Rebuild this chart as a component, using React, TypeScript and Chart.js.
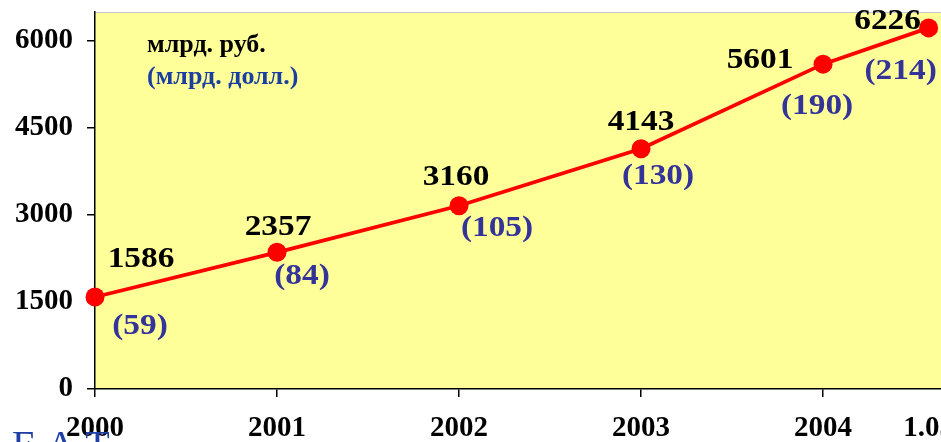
import React, { useEffect, useRef } from "react";
import { Chart, registerables } from "chart.js";

Chart.register(...registerables);

// ---- data ----
const years = [2000, 2001, 2002, 2003, 2004, 2004.58];
const xTickLabels = ["2000", "2001", "2002", "2003", "2004", "1.05"];
const rubValues = [1586, 2357, 3160, 4143, 5601, 6226];
const usdValues = [59, 84, 105, 130, 190, 214];
const yTicks = [0, 1500, 3000, 4500, 6000];
const unitRub = "млрд. руб.";
const unitUsd = "(млрд. долл.)";
const footerText = "Е.А.Т";

// label placement relative to each point (style, not data)
const rubLabelOffset = [
  [46, -37], [1, -25], [-3, -28], [0, -26], [-63, -4], [-41, -6],
];
const usdLabelOffset = [
  [45, 30], [25, 24], [38, 23], [17, 28], [-6, 42], [-28, 44],
];

const SERIF = '"Liberation Serif", "Times New Roman", serif';
const YELLOW = "#FFFF99";
const RED = "#FF0000";
const NAVY = "#333399";
const BLUE2 = "#1A3FA0";

const decorPlugin = {
  id: "decor",
  beforeDraw(chart: any) {
    const { ctx, chartArea } = chart;
    ctx.save();
    ctx.fillStyle = YELLOW;
    ctx.fillRect(chartArea.left, chartArea.top, chartArea.right - chartArea.left, chartArea.bottom - chartArea.top);
    ctx.strokeStyle = "#C8C8C8";
    ctx.lineWidth = 1;
    ctx.beginPath();
    ctx.moveTo(chartArea.left, chartArea.top + 0.5);
    ctx.lineTo(chartArea.right, chartArea.top + 0.5);
    ctx.stroke();
    ctx.restore();
  },
  afterDatasetsDraw(chart: any) {
    const { ctx, chartArea } = chart;
    const meta = chart.getDatasetMeta(0);
    ctx.save();
    const drawStretched = (text: string, x: number, y: number, font: string, color: string, sx: number, align: CanvasTextAlign) => {
      ctx.save();
      ctx.translate(x, y);
      ctx.scale(sx, 1);
      ctx.font = font;
      ctx.fillStyle = color;
      ctx.textAlign = align;
      ctx.textBaseline = "middle";
      ctx.fillText(text, 0, 0);
      ctx.restore();
    };
    meta.data.forEach((pt: any, i: number) => {
      const ro = rubLabelOffset[i];
      const uo = usdLabelOffset[i];
      drawStretched(String(rubValues[i]), pt.x + ro[0], pt.y + ro[1], `bold 29px ${SERIF}`, "#000000", 1.15, "center");
      drawStretched(`(${usdValues[i]})`, pt.x + uo[0], pt.y + uo[1], `bold 29px ${SERIF}`, NAVY, 1.15, "center");
    });
    drawStretched(unitRub, chartArea.left + 52, chartArea.top + 33, `bold 26px ${SERIF}`, "#000000", 1.0, "left");
    drawStretched(unitUsd, chartArea.left + 52, chartArea.top + 65, `bold 26px ${SERIF}`, BLUE2, 1.0, "left");
    ctx.font = `40px ${SERIF}`;
    ctx.fillStyle = "#1F3FA6";
    ctx.textAlign = "left";
    ctx.textBaseline = "alphabetic";
    ctx.fillText(footerText, 12, 458);
    ctx.restore();
  },
};

export default function App() {
  const ref = useRef<HTMLCanvasElement>(null);
  useEffect(() => {
    if (!ref.current) return;
    const chart = new Chart(ref.current, {
      type: "line",
      data: {
        datasets: [
          {
            data: years.map((x, i) => ({ x, y: rubValues[i] })),
            borderColor: RED,
            backgroundColor: RED,
            borderWidth: 3.8,
            pointRadius: 9.5,
            pointBackgroundColor: RED,
            pointBorderWidth: 0,
            tension: 0,
            clip: false,
          },
        ],
      },
      options: {
        animation: false,
        responsive: false,
        events: [],
        layout: { padding: { top: 12, left: 0, right: 0, bottom: 0 } },
        plugins: { legend: { display: false }, tooltip: { enabled: false } },
        scales: {
          x: {
            type: "linear",
            min: 2000,
            max: 2004.92,
            afterBuildTicks: (scale: any) => {
              scale.ticks = years.map((v) => ({ value: v }));
            },
            afterFit: (scale: any) => {
              scale.height = 53;
              scale.paddingLeft = 0;
              scale.paddingRight = 0;
            },
            ticks: {
              autoSkip: false,
              maxRotation: 0,
              padding: 14,
              color: "#000000",
              font: { family: SERIF, size: 29, weight: "bold" },
              callback: (v: any, i: number) => xTickLabels[i],
            },
            grid: {
              drawOnChartArea: false,
              drawTicks: true,
              tickLength: 8,
              color: (ctx: any) => (ctx.index === years.length - 1 ? "rgba(0,0,0,0)" : "#000000"),
              lineWidth: 1.5,
            },
            border: { display: true, color: "#000000", width: 1.5 },
          },
          y: {
            min: 0,
            max: 6500,
            afterBuildTicks: (scale: any) => {
              scale.ticks = yTicks.map((v) => ({ value: v }));
            },
            afterFit: (scale: any) => {
              scale.width = 95;
              scale.paddingTop = 0;
              scale.paddingBottom = 0;
            },
            ticks: {
              padding: 14,
              color: "#000000",
              font: { family: SERIF, size: 29, weight: "bold" },
              callback: (v: any) => String(v),
            },
            grid: {
              drawOnChartArea: false,
              drawTicks: true,
              tickLength: 8,
              color: "#000000",
              lineWidth: 1.5,
            },
            border: { display: true, color: "#000000", width: 1.5 },
          },
        },
      },
      plugins: [decorPlugin],
    } as any);
    return () => chart.destroy();
  }, []);
  return (
    <div style={{ position: "fixed", left: 0, top: 0, width: 941, height: 442, overflow: "hidden", background: "#fff" }}>
      <canvas ref={ref} width={1000} height={442} style={{ display: "block" }} />
    </div>
  );
}
